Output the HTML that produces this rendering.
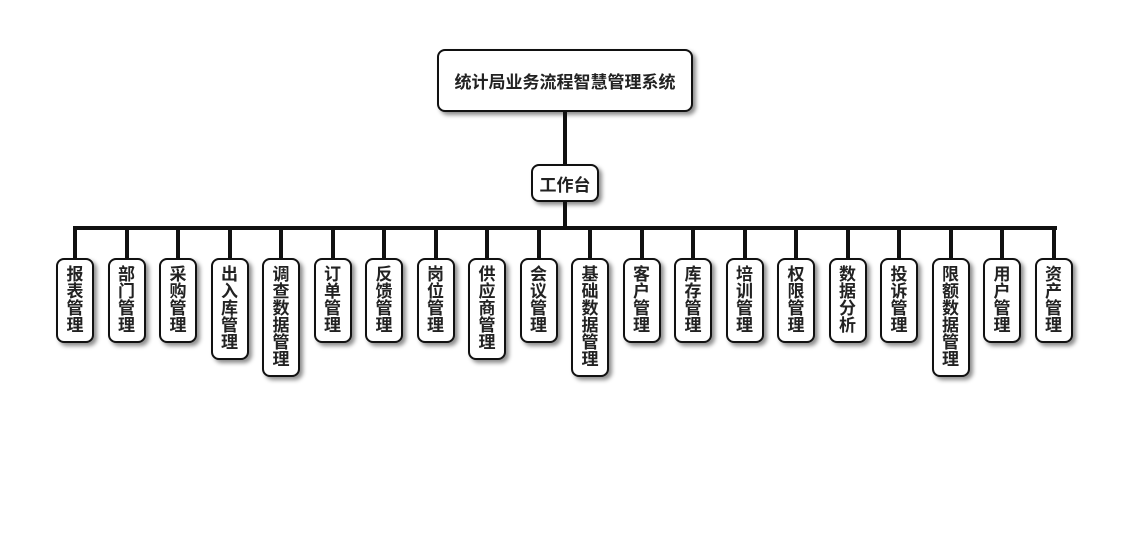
<!DOCTYPE html>
<html><head><meta charset="utf-8"><style>
body{margin:0;width:1130px;height:560px;background:#fff;position:relative;overflow:hidden;font-family:"Liberation Sans","Noto Sans CJK SC",sans-serif;font-weight:bold;color:#222}
.b{position:absolute;background:#fff;border:2px solid #111;border-radius:8px;box-shadow:3px 3px 4px rgba(0,0,0,.45);box-sizing:border-box;display:flex;align-items:center;justify-content:center}
.l{position:absolute;background:#111}
.leaf{position:absolute;top:258px;width:38px;background:#fff;border:2px solid #111;border-radius:8px;box-shadow:3px 3px 4px rgba(0,0,0,.45);box-sizing:border-box;font-size:17px;line-height:17px;text-align:center;padding-top:6px}
</style></head><body>
<div class="b" style="left:437px;top:49px;width:256px;height:63px;font-size:17px">统计局业务流程智慧管理系统</div>
<div class="l" style="left:563px;top:112px;width:4px;height:52px"></div>
<div class="b" style="left:531px;top:164px;width:68px;height:38px;font-size:17px">工作台</div>
<div class="l" style="left:563px;top:202px;width:4px;height:27px"></div>
<div class="l" style="left:73px;top:226px;width:984px;height:4px"></div>
<div id="c"></div>
<script>
var n=["报表管理","部门管理","采购管理","出入库管理","调查数据管理","订单管理","反馈管理","岗位管理","供应商管理","会议管理","基础数据管理","客户管理","库存管理","培训管理","权限管理","数据分析","投诉管理","限额数据管理","用户管理","资产管理"];
var h="";
n.forEach(function(t,i){var cx=75+i*51.5;var H=t.length*17+17;
h+='<div class="l" style="left:'+(cx-2)+'px;top:228px;width:4px;height:30px"></div>';
h+='<div class="leaf" style="left:'+(cx-19)+'px;height:'+H+'px">'+t.split("").join("<br>")+'</div>';});
document.getElementById("c").innerHTML=h;
</script>
</body></html>
